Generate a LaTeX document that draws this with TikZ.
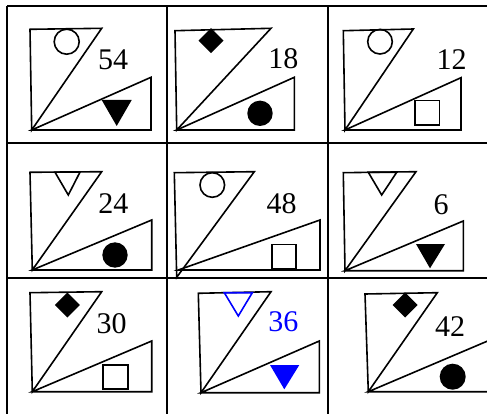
\documentclass[tikz,border=0pt]{standalone}
\usepackage{fontspec}
\setmainfont{Liberation Serif}
\usepackage{tikz}

\begin{document}
\begin{tikzpicture}[
  x=1pt, y=-1pt,
  gridline/.style={line width=2pt},
  fig/.style={draw, line width=1.6pt, line join=miter},
  blob/.style={fill=#1, draw=none},
  blob/.default=black,
  num/.style={inner sep=0pt, font=\fontsize{30}{30}\selectfont, text=#1},
  num/.default=black
]
  \useasboundingbox (0,0) rectangle (487,414);
  \clip (0,0) rectangle (487,414);

  % Tablica
  \draw[gridline] (7,6) -- (487,6);
  \draw[gridline] (7,143) -- (487,143);
  \draw[gridline] (7,278) -- (487,278);
  \draw[gridline] (7,6) -- (7,414);
  \draw[gridline] (167,6) -- (167,414);
  \draw[gridline] (328,6) -- (328,414);

  % Red 1, stupac 1
  \draw[fig] (30,29.3) -- (101.7,28.3) -- (31.7,130) -- cycle;
  \draw[fig] (31.7,130) -- (151,130) -- (151,77.3) -- cycle;
  \draw[line width=1.6pt] (66.7,41.7) circle[radius=12.5pt];
  \fill[blob] (101.7,100) -- (131.7,100) -- (116.7,126) -- cycle;
  \node[num] (n54) at (113,60) {54};

  % Red 1, stupac 2
  \draw[fig] (175,30.7) -- (271,28.3) -- (176.7,130) -- cycle;
  \draw[fig] (176.7,130) -- (294.3,130) -- (294.3,77.3) -- cycle;
  \fill[blob] (211,28.2) -- (223.5,40.7) -- (211,53.2) -- (198.5,40.7) -- cycle;
  \fill[blob] (260,113.3) circle[radius=12.7pt];
  \node[num] (n18) at (283.3,58.3) {18};

  % Red 1, stupac 3
  \draw[fig] (343.3,30.7) -- (413.3,29) -- (345,130) -- cycle;
  \draw[fig] (345,130) -- (461,130) -- (461,77.7) -- cycle;
  \draw[line width=1.6pt] (380,41.7) circle[radius=12.3pt];
  \draw[line width=1.6pt] (415,100.7) rectangle (439.3,125);
  \node[num] (n12) at (451.7,59.3) {12};

  % Red 2, stupac 1
  \draw[fig] (30,172.3) -- (101.7,171.7) -- (32.3,270) -- cycle;
  \draw[fig] (32.3,270) -- (151.7,270) -- (151.7,220) -- cycle;
  \draw[fig] (55,172.2) -- (80,172.1) -- (68.3,195) -- cycle;
  \fill[blob] (115,255) circle[radius=12.7pt];
  \node[num] (n24) at (113.3,203.3) {24};

  % Red 2, stupac 2
  \draw[fig] (174.3,172.7) -- (254.3,171.7) -- (176.7,277.3) -- cycle;
  \draw[fig] (178.3,270) -- (320,270) -- (320,220) -- cycle;
  \draw[line width=1.6pt] (212.3,185) circle[radius=12.3pt];
  \draw[line width=1.6pt] (271.7,244.3) rectangle (296,268.3);
  \node[num] (n48) at (281.7,203.3) {48};

  % Red 2, stupac 3
  \draw[fig] (343.3,172.7) -- (416,171.7) -- (345,270.7) -- cycle;
  \draw[fig] (345,270.7) -- (463.3,270.7) -- (463.3,221) -- cycle;
  \draw[fig] (368.3,172.3) -- (396.7,172.3) -- (381.7,195) -- cycle;
  \fill[blob] (416,244) -- (445,244) -- (430,268.3) -- cycle;
  \node[num] (n6) at (441,205) {6};

  % Red 3, stupac 1
  \draw[fig] (30,292.7) -- (101.7,291.7) -- (32.3,391.7) -- cycle;
  \draw[fig] (32.3,391.7) -- (151.7,391.7) -- (151.7,341) -- cycle;
  \fill[blob] (67.3,292.5) -- (79.8,305) -- (67.3,317.5) -- (54.8,305) -- cycle;
  \draw[line width=1.6pt] (102.7,365) rectangle (127.7,389);
  \node[num] (n30) at (111.7,323.3) {30};

  % Red 3, stupac 2 (plavo)
  \draw[fig] (198.3,293.3) -- (271,291.7) -- (201,392.7) -- cycle;
  \draw[fig] (201,392.7) -- (319.3,392.7) -- (319.3,341) -- cycle;
  \draw[fig, draw=blue] (224.3,292.7) -- (252.3,292.7) -- (238.3,316) -- cycle;
  \fill[blob=blue] (270,365) -- (299.3,365) -- (284.3,389.3) -- cycle;
  \node[num=blue] (n36) at (283.3,321.7) {36};

  % Red 3, stupac 3
  \draw[fig] (365,294) -- (437.3,292.7) -- (368.3,391.7) -- cycle;
  \draw[fig] (368.3,391.7) -- (490,391.7) -- (490,340) -- cycle;
  \fill[blob] (405,292.5) -- (417.5,305) -- (405,317.5) -- (392.5,305) -- cycle;
  \fill[blob] (452.7,376.7) circle[radius=13pt];
  \node[num] (n42) at (450,326.7) {42};
\end{tikzpicture}
\end{document}
